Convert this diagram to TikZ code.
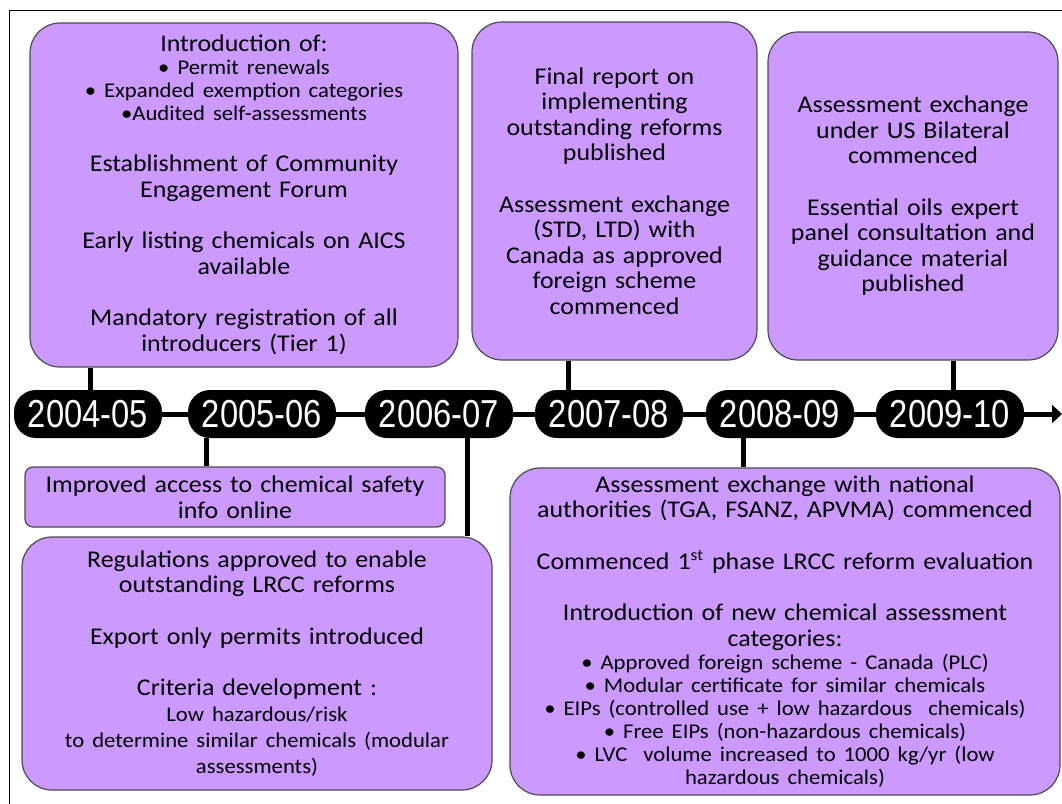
\documentclass[tikz,border=0pt]{standalone}
\usepackage{fontspec}
\setmainfont[FakeStretch=1.08]{Carlito}
\newfontfamily\pillfont[FakeStretch=0.84]{Liberation Sans}
\usetikzlibrary{arrows.meta}
\definecolor{lilac}{HTML}{CC99FF}
\newcommand\bodytext{\fontsize{12}{12.75}\selectfont}
\newcommand\smalltext{\fontsize{10.5}{11.5}\selectfont}
\newcommand\paragap{\par\vspace{13pt}}
\tikzset{
  evbox/.style={draw=black!70, line width=0.6pt, fill=lilac, rounded corners=15pt,
    align=center, inner sep=0pt, font=\bodytext},
  notebox/.style={evbox, rounded corners=4pt},
  pill/.style={fill=black, text=white, rounded corners=11pt, inner sep=0pt,
    minimum width=74pt, minimum height=24pt, font=\pillfont\fontsize{19.5}{22}\selectfont},
  tl/.style={line width=2.5pt, black},
}
\begin{document}
\begin{tikzpicture}[x=0.5pt, y=-0.5pt]
\useasboundingbox (0,0) rectangle (1062,804);
% outer frame
\draw[line width=0.5pt] (9,804) -- (9,10) -- (1062,10);

% year markers
\node[pill] (p1) at (88,414)  {2004-05};
\node[pill] (p2) at (262,414) {2005-06};
\node[pill] (p3) at (439,414) {2006-07};
\node[pill] (p4) at (609,414) {2007-08};
\node[pill] (p5) at (780,414) {2008-09};
\node[pill] (p6) at (950,414) {2009-10};
\coordinate (tip) at (1062,414);

% timeline axis
\draw[tl] (p1.east) -- (p2.west);
\draw[tl] (p2.east) -- (p3.west);
\draw[tl] (p3.east) -- (p4.west);
\draw[tl] (p4.east) -- (p5.west);
\draw[tl] (p5.east) -- (p6.west);
\draw[tl, -{Triangle[length=5pt, width=9pt]}] (p6.east) -- (tip);

% events above the axis
\node[evbox, minimum width=214pt, minimum height=172pt, text width=205pt] (A) at (244,195) {%
  Introduction of:\par
  \smalltext • Permit renewals\\ • Expanded exemption categories\\ •Audited self-assessments\par
  \vspace{12.75pt}\bodytext Establishment of Community\\ Engagement Forum\paragap
  Early listing chemicals on AICS\\ available\paragap
  Mandatory registration of all\\ introducers (Tier 1)\par};

\node[evbox, minimum width=142.5pt, minimum height=169pt, text width=138pt] (B) at (614.5,191) {%
  Final report on\\ implementing\\ outstanding reforms\\ published\paragap
  Assessment exchange\\ (STD, LTD) with\\ Canada as approved\\ foreign scheme\\ commenced\par};

\node[evbox, minimum width=145pt, minimum height=164pt, text width=140pt] (C) at (913,196) {%
  Assessment exchange\\ under US Bilateral\\ commenced\paragap
  Essential oils expert\\ panel consultation and\\ guidance material\\ published\par};

% events below the axis
\node[notebox, minimum width=210pt, minimum height=30pt, text width=205pt] (D) at (235,497) {%
  Improved access to chemical safety\\ info online\par};

\node[evbox, minimum width=235pt, minimum height=126.5pt, text width=228pt] (E) at (257,663.5) {%
  Regulations approved to enable\\ outstanding LRCC reforms\paragap
  Export only permits introduced\paragap
  Criteria development :\par
  \fontsize{10.5}{12.9}\selectfont Low hazardous/risk\\ to determine similar chemicals (modular\\ assessments)\par};

\node[evbox, minimum width=275pt, minimum height=163.5pt, text width=270pt] (F) at (785,631.5) {%
  Assessment exchange with national\\ authorities (TGA, FSANZ, APVMA) commenced\paragap
  Commenced 1\textsuperscript{st} phase LRCC reform evaluation\paragap
  Introduction of new chemical assessment\\ categories:\par
  \smalltext • Approved foreign scheme - Canada (PLC)\\
  • Modular certificate for similar chemicals\\
  • EIPs (controlled use + low hazardous\ \ chemicals)\\
  • Free EIPs (non-hazardous chemicals)\\
  • LVC\ \ volume increased to 1000 kg/yr (low\\ hazardous chemicals)\par};

% stems joining events to the axis
\coordinate (sa) at (90,0);
\coordinate (sb) at (568,0);
\coordinate (sc) at (953,0);
\coordinate (sd) at (206,0);
\coordinate (se) at (467,0);
\coordinate (sf) at (743,0);
\draw[tl] (A.south -| sa) -- (p1.north -| sa);
\draw[tl] (B.south -| sb) -- (p4.north -| sb);
\draw[tl] (C.south -| sc) -- (p6.north -| sc);
\draw[tl] (p2.south -| sd) -- (D.north -| sd);
\draw[tl] (p3.south -| se) -- (E.north -| se);
\draw[tl] (p5.south -| sf) -- (F.north -| sf);
\end{tikzpicture}
\end{document}
